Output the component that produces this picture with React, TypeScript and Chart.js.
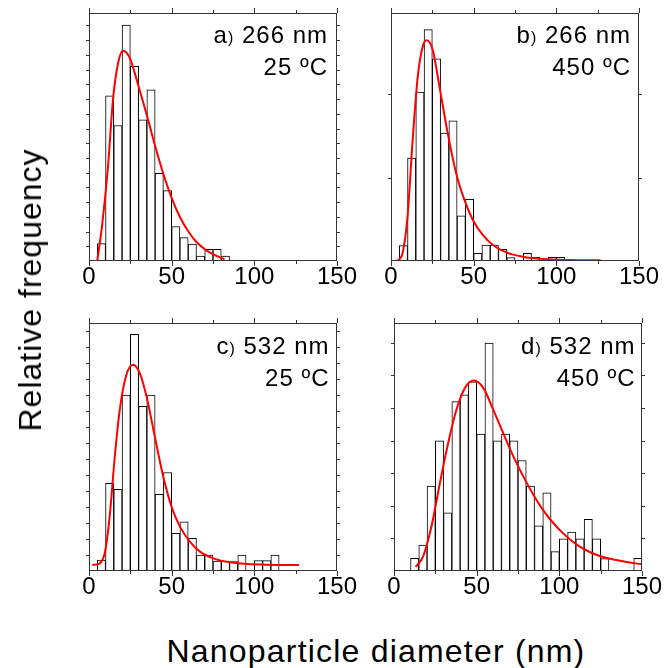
import React, { useEffect, useRef } from "react";
import { Chart, registerables } from "chart.js";

Chart.register(...registerables);

const FONT = '"Liberation Sans", Arial, Helvetica, sans-serif';

// ---- Shared axis ----
const xTickLabels = [0, 50, 100, 150];
const xMinorTicks = [25, 75, 125];
const binWidth = 5;

// ---- Panel a) 266 nm, 25 ºC ----
const binsA = [5, 10, 15, 20, 25, 30, 35, 40, 45, 50, 55, 60, 65, 70, 75, 80];
const freqA = [52, 495, 406, 707, 583, 423, 513, 263, 211, 103, 70, 51, 15, 35, 35, 15];
const fitXA = [5, 8, 11.5, 14.5, 17.6, 20.6, 24.7, 29.7, 34.8, 39.8, 44.9, 49.9, 55, 60, 65, 71, 76, 82];
const fitYA = [0, 110, 283, 483, 593, 630, 608, 528, 440, 348, 262, 190, 132, 89, 57, 32, 18, 5];

// ---- Panel b) 266 nm, 450 ºC ----
const binsB = [5, 10, 15, 20, 25, 30, 35, 40, 45, 50, 55, 60, 65, 70, 75, 80, 85, 90, 95, 100];
const freqB = [46, 308, 506, 693, 606, 383, 420, 135, 185, 23, 48, 48, 35, 10, 0, 23, 11, 0, 11, 11];
const fitXB = [3, 5, 7, 10, 13.1, 16.2, 19.2, 21.6, 25.2, 29.3, 34.3, 39.4, 44.4, 49.5, 55.5, 61.6, 69.7, 79.7, 91.9, 108, 126.8];
const fitYB = [0, 5, 23, 133, 363, 553, 643, 661, 633, 523, 383, 263, 183, 123, 78, 48, 26, 13, 6, 3, 2];

// ---- Panel c) 532 nm, 25 ºC ----
const binsC = [5, 10, 15, 20, 25, 30, 35, 40, 45, 50, 55, 60, 65, 70, 75, 80, 85, 90, 95, 100, 105, 110];
const freqC = [33, 263, 245, 527, 709, 493, 527, 230, 295, 113, 147, 98, 48, 48, 30, 30, 28, 48, 0, 31, 31, 48];
const fitXC = [2, 6.5, 9.5, 12.5, 15.6, 18.6, 22.6, 26.7, 30.7, 34.8, 39.8, 44.9, 49.9, 55, 61, 67.1, 75.2, 85.3, 99.5, 115.6, 127];
const fitYC = [18, 23, 53, 163, 343, 483, 588, 618, 593, 523, 403, 283, 193, 133, 88, 58, 38, 26, 20, 18, 18];

// ---- Panel d) 532 nm, 450 ºC ----
const binsD = [10, 15, 20, 25, 30, 35, 40, 45, 50, 55, 60, 65, 70, 75, 80, 85, 90, 95, 100, 105, 110, 115, 120, 125, 130, 135, 140, 145];
const freqD = [38, 78, 255, 391, 175, 509, 529, 568, 411, 685, 391, 411, 391, 332, 255, 136, 235, 58, 97, 117, 97, 155, 97, 37, 0, 0, 0, 38];
const fitXD = [13.1, 17.7, 22.7, 27.8, 32.8, 37.8, 42.9, 48.3, 54, 60, 66, 72.1, 78.1, 84.2, 90.2, 96.2, 102.3, 110.3, 118.4, 126.4, 138.5, 150];
const fitYD = [12, 45, 135, 265, 385, 485, 550, 572, 550, 485, 415, 345, 285, 230, 183, 145, 113, 80, 57, 42, 29, 20];

const PAD_L = 25;
const PAD_R = 25;
const PAD_T = 10;
const PLOT = 248;
const AXIS_H = 42;

const framePlugin = {
  id: "frame",
  afterDatasetsDraw(chart: any, _args: any, opts: any) {
    const { ctx, chartArea } = chart;
    const { left, right, top, bottom } = chartArea;
    const xs = chart.scales.x;
    const ys = chart.scales.y;
    ctx.save();
    ctx.strokeStyle = "#333";
    ctx.lineWidth = 1;
    ctx.strokeRect(left + 0.5, top + 0.5, right - left - 1, bottom - top - 1);
    ctx.beginPath();
    const tick = (v: number, len: number) => {
      const px = Math.round(xs.getPixelForValue(v)) + 0.5;
      ctx.moveTo(px, bottom);
      ctx.lineTo(px, bottom + len);
      ctx.moveTo(px, top);
      ctx.lineTo(px, top - len);
    };
    xTickLabels.forEach((v) => tick(v, 5));
    xMinorTicks.forEach((v) => tick(v, 3));
    const step = opts.yStep;
    for (let v = step; v < ys.max; v += step) {
      const py = Math.round(ys.getPixelForValue(v)) + 0.5;
      ctx.moveTo(left, py);
      ctx.lineTo(left - 3, py);
      ctx.moveTo(right, py);
      ctx.lineTo(right + 3, py);
    }
    ctx.stroke();
    ctx.restore();
  },
};

type PanelProps = {
  left: number;
  top: number;
  bins: number[];
  freq: number[];
  fitX: number[];
  fitY: number[];
  yMax: number;
  yStep: number;
};

function Panel({ left, top, bins, freq, fitX, fitY, yMax, yStep }: PanelProps) {
  const ref = useRef<HTMLCanvasElement | null>(null);
  useEffect(() => {
    if (!ref.current) return;
    const chart = new Chart(ref.current, {
      type: "bar",
      data: {
        datasets: [
          {
            type: "line",
            data: fitX.map((x, i) => ({ x, y: fitY[i] })),
            borderColor: "#ff0000",
            borderWidth: 2,
            pointRadius: 0,
            fill: false,
            tension: 0.4,
            cubicInterpolationMode: "monotone",
            order: 0,
          } as any,
          {
            type: "bar",
            data: bins.map((b, i) => ({ x: b + binWidth / 2, y: freq[i] })),
            backgroundColor: "#ffffff",
            borderColor: "#000000",
            borderWidth: 1,
            barPercentage: 1,
            categoryPercentage: 1,
            order: 1,
          } as any,
        ],
      },
      options: {
        animation: false,
        responsive: false,
        maintainAspectRatio: false,
        layout: { padding: { left: PAD_L, right: PAD_R, top: PAD_T, bottom: 0 } },
        plugins: {
          legend: { display: false },
          tooltip: { enabled: false },
          frame: { yStep },
        } as any,
        scales: {
          x: {
            type: "linear",
            min: 0,
            max: 150,
            offset: false,
            afterBuildTicks: (axis: any) => {
              axis.ticks = xTickLabels.map((v) => ({ value: v }));
            },
            afterFit: (axis: any) => {
              axis.height = AXIS_H;
            },
            grid: { display: false },
            border: { display: false },
            ticks: {
              font: { family: FONT, size: 24, lineHeight: 1 },
              color: "#000",
              padding: -4,
              maxRotation: 0,
              autoSkip: false,
            },
          },
          y: { display: false, min: 0, max: yMax },
        },
      } as any,
      plugins: [framePlugin],
    });
    return () => chart.destroy();
  }, []);
  return (
    <canvas
      ref={ref}
      width={PLOT + PAD_L + PAD_R}
      height={PLOT + PAD_T + AXIS_H}
      style={{ position: "absolute", left: left - PAD_L, top: top - PAD_T }}
    />
  );
}

const NOTE_SIZE = 24;
const NOTE_BASE = NOTE_SIZE / 2 + ((0.905 - 0.212) / 2) * NOTE_SIZE;

function Note({ right, baseline, letter, line1, line2 }: { right: number; baseline: number; letter: string; line1: string; line2: string }) {
  const common: React.CSSProperties = {
    position: "absolute",
    left: right - 300,
    width: 300,
    textAlign: "right",
    fontSize: NOTE_SIZE,
    lineHeight: `${NOTE_SIZE}px`,
    letterSpacing: "1px",
    whiteSpace: "nowrap",
    color: "#000",
  };
  return (
    <>
      <div style={{ ...common, top: baseline - NOTE_BASE }}>
        {letter}
        <span style={{ fontSize: 16 }}>)</span> {line1}
      </div>
      <div style={{ ...common, top: baseline + 32.5 - NOTE_BASE }}>{line2}</div>
    </>
  );
}

export default function App() {
  return (
    <div
      style={{
        position: "absolute",
        left: 0,
        top: 0,
        width: 669,
        height: 668,
        background: "#fff",
        fontFamily: FONT,
        overflow: "hidden",
      }}
    >
      <Panel left={89} top={13} bins={binsA} freq={freqA} fitX={fitXA} fitY={fitYA} yMax={743} yStep={44.1} />
      <Panel left={391} top={13} bins={binsB} freq={freqB} fitX={fitXB} fitY={fitYB} yMax={743} yStep={250} />
      <Panel left={89} top={323} bins={binsC} freq={freqC} fitX={fitXC} fitY={fitYC} yMax={743} yStep={48} />
      <Panel left={394} top={323} bins={binsD} freq={freqD} fitX={fitXD} fitY={fitYD} yMax={745} yStep={98} />

      <Note right={328} baseline={43.3} letter="a" line1="266 nm" line2="25 ºC" />
      <Note right={631} baseline={43.3} letter="b" line1="266 nm" line2="450 ºC" />
      <Note right={329.5} baseline={354.3} letter="c" line1="532 nm" line2="25 ºC" />
      <Note right={635.5} baseline={354.3} letter="d" line1="532 nm" line2="450 ºC" />

      <div
        style={{
          position: "absolute",
          left: 30,
          top: 290,
          transform: "translate(-50%, -50%) rotate(-90deg)",
          fontSize: 32,
          lineHeight: "32px",
          letterSpacing: "1px",
          whiteSpace: "nowrap",
          color: "#000",
        }}
      >
        Relative frequency
      </div>
      <div
        style={{
          position: "absolute",
          left: 76,
          width: 600,
          top: 661.7 - 27.1,
          textAlign: "center",
          fontSize: 32,
          lineHeight: "32px",
          letterSpacing: "1.2px",
          whiteSpace: "nowrap",
          color: "#000",
        }}
      >
        Nanoparticle diameter (nm)
      </div>
    </div>
  );
}
